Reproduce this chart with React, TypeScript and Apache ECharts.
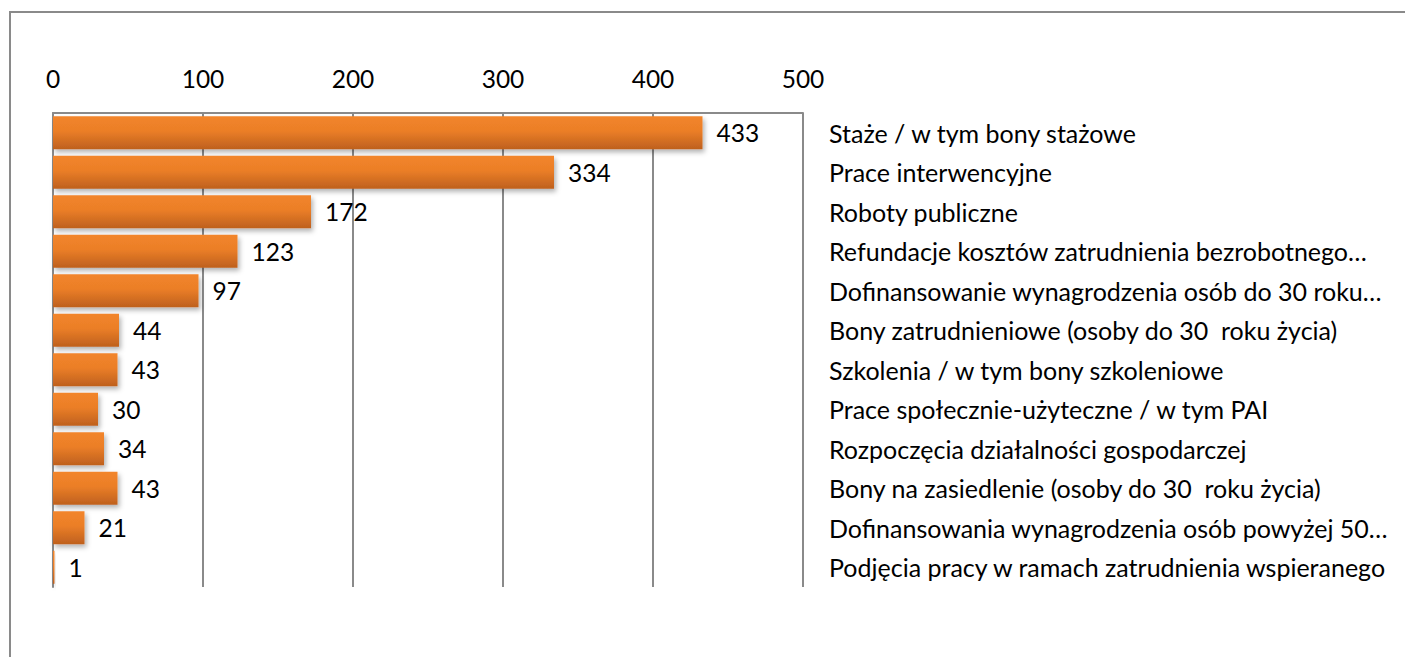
import React, { useEffect, useRef } from "react";
import * as echarts from "echarts";

const categories = [
  "Staże / w tym bony stażowe",
  "Prace interwencyjne",
  "Roboty publiczne",
  "Refundacje kosztów zatrudnienia bezrobotnego…",
  "Dofinansowanie wynagrodzenia osób do 30 roku…",
  "Bony zatrudnieniowe (osoby do 30  roku życia)",
  "Szkolenia / w tym bony szkoleniowe",
  "Prace społecznie-użyteczne / w tym PAI",
  "Rozpoczęcia działalności gospodarczej",
  "Bony na zasiedlenie (osoby do 30  roku życia)",
  "Dofinansowania wynagrodzenia osób powyżej 50…",
  "Podjęcia pracy w ramach zatrudnienia wspieranego",
];
const values = [433, 334, 172, 123, 97, 44, 43, 30, 34, 43, 21, 1];
const axisMin = 0;
const axisMax = 500;
const axisStep = 100;

const FONT = "Lato, 'Noto Sans', sans-serif";

export default function App() {
  const ref = useRef<HTMLDivElement>(null);
  useEffect(() => {
    document.body.style.margin = "0";
    const chart = echarts.init(ref.current!, null, { renderer: "svg" });
    chart.setOption({
      animation: false,
      backgroundColor: "#fff",
      textStyle: { fontFamily: FONT },
      graphic: [
        {
          type: "rect",
          shape: { x: 10, y: 12, width: 1600, height: 800 },
          style: { fill: "none", stroke: "#8a8a8a", lineWidth: 2 },
          silent: true,
        },
      ],
      grid: { left: 53, right: 602, top: 113, bottom: 70 },
      xAxis: {
        type: "value",
        position: "top",
        min: axisMin,
        max: axisMax,
        interval: axisStep,
        axisLine: { show: true, lineStyle: { color: "#8a8a8a", width: 2 } },
        axisTick: { show: false },
        splitLine: { show: true, lineStyle: { color: "#8a8a8a", width: 2 } },
        axisLabel: { color: "#000", fontSize: 24.5, fontFamily: FONT, margin: 22 },
      },
      yAxis: [
        {
          type: "category",
          inverse: true,
          position: "left",
          data: categories,
          axisLine: { show: true, lineStyle: { color: "#8a8a8a", width: 2 } },
          axisTick: { show: false },
          axisLabel: { show: false },
        },
        {
          type: "category",
          inverse: true,
          position: "right",
          data: categories,
          axisLine: { show: false },
          axisTick: { show: false },
          axisLabel: {
            show: true,
            color: "#000",
            fontSize: 25,
            fontFamily: FONT,
            margin: 26,
            align: "left",
          },
        },
      ],
      series: [
        {
          type: "bar",
          yAxisIndex: 0,
          data: values,
          barCategoryGap: "16%",
          itemStyle: {
            color: new echarts.graphic.LinearGradient(0, 0, 0, 1, [
              { offset: 0, color: "#F2852B" },
              { offset: 0.45, color: "#EB7E27" },
              { offset: 1, color: "#BE601E" },
            ]),
            shadowColor: "rgba(0,0,0,0.3)",
            shadowBlur: 5,
            shadowOffsetX: 2,
            shadowOffsetY: 3,
          },
          label: {
            show: true,
            position: "right",
            distance: 14,
            color: "#000",
            fontSize: 24.5,
            fontFamily: FONT,
          },
        },
      ],
    });
    return () => chart.dispose();
  }, []);
  return <div ref={ref} style={{ width: 1405, height: 657 }} />;
}
